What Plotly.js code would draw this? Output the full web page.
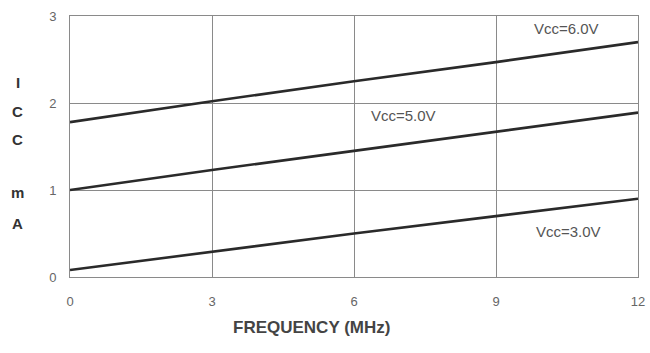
<!DOCTYPE html>
<html><head><meta charset="utf-8">
<script src="https://cdn.plot.ly/plotly-3.0.1.min.js"></script>
<style>html,body{margin:0;padding:0;background:#fff}#chart{width:650px;height:353px}</style>
</head><body><div id="chart"></div>
<script>
const freq = [0, 3, 6, 9, 12];
const icc6 = [1.78, 2.02, 2.25, 2.47, 2.70];
const icc5 = [1.00, 1.23, 1.45, 1.67, 1.89];
const icc3 = [0.08, 0.29, 0.50, 0.70, 0.90];
const seriesNames = ["Vcc=6.0V", "Vcc=5.0V", "Vcc=3.0V"];
const labelX = [10.48, 7.04, 10.54];
const labelY = [2.86, 1.86, 0.52];
const xTicks = [0, 3, 6, 9, 12];
const yTicks = [0, 1, 2, 3];
const yTitleLetters = ["I", "C", "C", "m", "A"];
const yTitleY = [2.23, 1.90, 1.58, 0.97, 0.61];
const xTitle = "FREQUENCY (MHz)";

const fontFam = "Liberation Sans, Arial, sans-serif";
const lineStyle = {color: "#2a2a2a", width: 2.6};
const traces = [icc6, icc5, icc3].map((ys, i) => ({
  x: freq, y: ys, type: "scatter", mode: "lines", name: seriesNames[i],
  line: lineStyle, hoverinfo: "skip"
}));

const annotations = seriesNames.map((n, i) => ({
  x: labelX[i], y: labelY[i], xref: "x", yref: "y", text: n, showarrow: false,
  font: {family: fontFam, size: 15, color: "#555"}
}));
yTitleLetters.forEach((ch, i) => annotations.push({
  x: -0.092, y: yTitleY[i], xref: "paper", yref: "y", text: "<b>" + ch + "</b>",
  showarrow: false, xanchor: "center",
  font: {family: fontFam, size: 15, color: "#333"}
}));
annotations.push({
  x: 0.426, y: -0.195, xref: "paper", yref: "paper", text: "<b>" + xTitle + "</b>", showarrow: false,
  xanchor: "center", yanchor: "middle",
  font: {family: fontFam, size: 17, color: "#444"}
});

const axisCommon = {showgrid: true, gridcolor: "#8a8a8a", gridwidth: 1,
  zeroline: false, showline: true, linecolor: "#8a8a8a", linewidth: 1, mirror: true,
  ticks: "outside", tickcolor: "rgba(0,0,0,0)",
  tickfont: {family: fontFam, size: 13, color: "#666"}};
const layout = {
  width: 650, height: 353,
  margin: {l: 70, r: 12, t: 16, b: 76},
  paper_bgcolor: "#fff", plot_bgcolor: "#fff",
  showlegend: false,
  xaxis: Object.assign({range: [0, 12], tickvals: xTicks, ticklen: 12}, axisCommon),
  yaxis: Object.assign({range: [0, 3], tickvals: yTicks, ticklen: 10}, axisCommon),
  annotations: annotations
};
Plotly.newPlot("chart", traces, layout, {staticPlot: true, displayModeBar: false});
</script></body></html>
